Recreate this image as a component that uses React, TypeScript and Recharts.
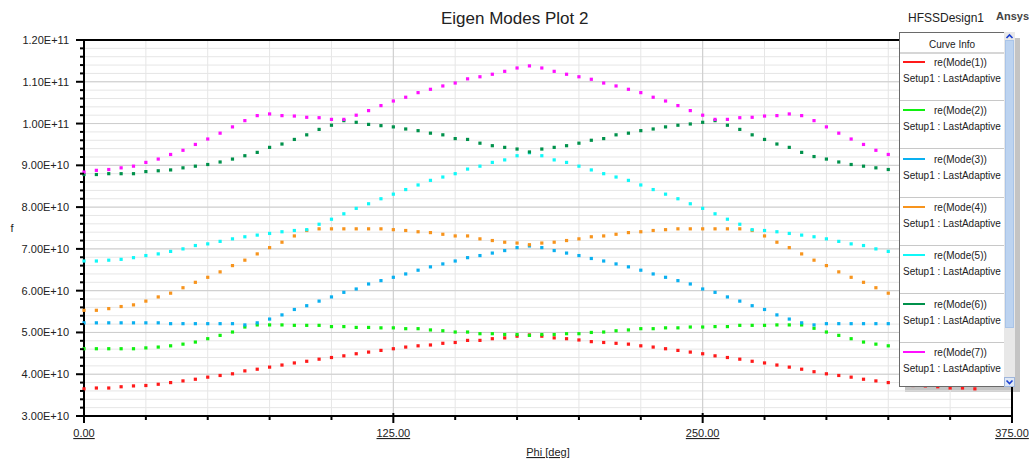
import * as React from "react"
import { LineChart, Line, XAxis, YAxis, CartesianGrid, ReferenceLine } from "recharts"

// Phi sweep in degrees
const phi = [
  0, 5, 10, 15, 20, 25, 30, 35, 40, 45,
  50, 55, 60, 65, 70, 75, 80, 85, 90, 95,
  100, 105, 110, 115, 120, 125, 130, 135, 140, 145,
  150, 155, 160, 165, 170, 175, 180, 185, 190, 195,
  200, 205, 210, 215, 220, 225, 230, 235, 240, 245,
  250, 255, 260, 265, 270, 275, 280, 285, 290, 295,
  300, 305, 310, 315, 320, 325, 330, 335, 340, 345,
  350, 355, 360,
]

// eigen frequencies in GHz
const mode1 = [
  36.5, 36.7, 36.7, 37.0, 37.2, 37.3, 37.6, 38.0, 38.4, 38.8,
  39.3, 39.7, 40.1, 40.8, 41.2, 41.7, 42.2, 42.7, 43.1, 43.6,
  44.0, 44.4, 44.9, 45.3, 45.7, 46.1, 46.5, 46.8, 47.0, 47.4,
  47.6, 48.1, 48.1, 48.5, 48.7, 49.1, 49.4, 49.1, 48.7, 48.5,
  48.2, 47.8, 47.6, 47.4, 47.2, 46.8, 46.5, 46.1, 45.7, 45.3,
  44.9, 44.4, 44.0, 43.6, 43.1, 42.7, 42.2, 41.7, 41.2, 40.6,
  40.1, 39.7, 39.3, 38.8, 38.4, 38.0, 37.6, 37.3, 37.2, 37.0,
  36.7, 36.7, 36.5,
]
const mode2 = [
  46.1, 46.1, 46.1, 46.1, 46.1, 46.3, 46.5, 46.8, 47.2, 47.7,
  48.5, 49.3, 50.1, 51.3, 51.8, 51.8, 51.8, 51.7, 51.7, 51.7,
  51.4, 51.4, 51.2, 51.2, 51.1, 51.1, 50.9, 50.9, 50.6, 50.4,
  50.1, 50.1, 49.7, 49.7, 49.5, 49.5, 49.3, 49.5, 49.5, 49.7,
  49.7, 50.0, 50.1, 50.4, 50.6, 50.9, 50.9, 51.1, 51.1, 51.3,
  51.3, 51.4, 51.4, 51.7, 51.7, 51.7, 51.8, 51.8, 51.8, 51.0,
  50.1, 49.3, 48.5, 47.7, 47.2, 46.8, 46.5, 46.3, 46.1, 46.1,
  46.1, 46.1, 46.1,
]
const mode3 = [
  52.3, 52.3, 52.3, 52.3, 52.3, 52.3, 52.3, 52.1, 52.1, 52.1,
  52.1, 52.1, 52.1, 51.8, 52.3, 53.2, 54.2, 55.5, 56.4, 57.5,
  58.5, 59.6, 60.4, 61.6, 62.4, 63.2, 64.0, 64.9, 65.7, 66.4,
  67.1, 67.9, 68.4, 69.0, 69.6, 70.3, 70.7, 70.3, 69.6, 69.0,
  68.4, 67.7, 67.1, 66.4, 65.7, 64.9, 64.0, 63.2, 62.4, 61.6,
  60.4, 59.6, 58.5, 57.5, 56.4, 55.5, 54.2, 53.2, 52.3, 51.8,
  52.1, 52.1, 52.1, 52.1, 52.1, 52.1, 52.3, 52.3, 52.3, 52.3,
  52.3, 52.3, 52.3,
]
const mode4 = [
  55.3, 55.3, 55.7, 56.2, 56.6, 57.5, 58.5, 59.4, 60.7, 62.0,
  63.2, 64.5, 66.0, 67.3, 68.8, 70.3, 71.6, 73.1, 74.4, 74.8,
  74.8, 74.8, 74.8, 74.8, 74.8, 74.6, 74.4, 74.1, 73.9, 73.5,
  73.1, 73.1, 72.4, 72.0, 71.6, 71.4, 71.0, 71.4, 71.6, 72.0,
  72.4, 72.9, 73.1, 73.5, 73.9, 74.1, 74.4, 74.6, 74.8, 74.8,
  74.8, 74.8, 74.8, 74.8, 74.4, 73.1, 71.6, 70.3, 68.8, 67.3,
  66.0, 64.5, 63.2, 62.0, 60.7, 59.4, 58.5, 57.5, 56.6, 56.2,
  55.7, 55.3, 55.3,
]
const mode5 = [
  67.1, 67.1, 67.3, 67.5, 67.9, 68.4, 68.8, 69.4, 70.0, 70.8,
  71.2, 71.8, 72.4, 72.9, 73.3, 73.7, 74.1, 74.4, 74.6, 75.9,
  77.1, 78.4, 79.7, 80.8, 82.0, 83.1, 84.2, 85.3, 86.4, 87.2,
  88.0, 89.1, 89.8, 90.7, 91.3, 92.3, 93.0, 92.3, 91.3, 90.7,
  89.8, 88.9, 88.0, 87.2, 86.4, 85.3, 84.2, 83.1, 82.0, 80.8,
  79.7, 78.4, 77.1, 75.9, 74.6, 74.4, 74.1, 73.7, 73.3, 72.9,
  72.4, 71.8, 71.2, 70.8, 70.0, 69.4, 68.8, 68.4, 67.9, 67.5,
  67.3, 67.1, 67.1,
]
const mode6 = [
  87.8, 87.8, 88.0, 88.0, 88.0, 88.5, 88.7, 88.9, 89.4, 89.8,
  90.2, 90.8, 91.5, 92.3, 93.1, 94.3, 95.1, 96.2, 97.3, 98.6,
  99.6, 100.7, 100.3, 99.8, 99.5, 99.2, 98.7, 98.3, 97.7, 97.3,
  96.4, 96.2, 95.3, 94.7, 94.3, 93.9, 93.2, 93.9, 94.3, 94.7,
  95.3, 96.0, 96.4, 97.3, 97.7, 98.3, 98.7, 99.2, 99.6, 99.9,
  100.3, 100.7, 99.6, 98.6, 97.3, 96.2, 95.1, 94.3, 93.1, 92.1,
  91.5, 90.8, 90.2, 89.8, 89.4, 89.0, 88.7, 88.5, 88.0, 88.0,
  88.0, 87.8, 87.8,
]
const mode7 = [
  88.4, 88.8, 89.0, 89.4, 89.8, 90.7, 91.5, 92.6, 93.6, 95.0,
  96.3, 97.7, 99.2, 100.7, 101.9, 102.3, 101.9, 101.8, 101.5, 101.4,
  101.0, 101.0, 102.0, 103.1, 104.3, 105.4, 106.3, 107.4, 108.2, 109.0,
  109.7, 110.7, 111.2, 111.8, 112.5, 113.3, 113.8, 113.3, 112.5, 111.8,
  111.2, 110.6, 109.7, 109.0, 108.2, 107.4, 106.3, 105.4, 104.3, 103.1,
  102.0, 101.0, 101.0, 101.4, 101.5, 101.8, 101.9, 102.3, 101.9, 100.7,
  99.2, 97.7, 96.3, 95.0, 93.6, 92.6, 91.5, 90.7, 89.8, 89.4,
  89.0, 88.8, 88.4,
]

const xTicks = [0, 25, 50, 75, 100, 125, 150, 175, 200, 225, 250, 275, 300, 325, 350, 375]
const xMajor = [0, 125, 250, 375]
const yTicks = [
  30, 32, 34, 36, 38, 40, 42, 44, 46, 48, 50, 52, 54, 56, 58, 60,
  62, 64, 66, 68, 70, 72, 74, 76, 78, 80, 82, 84, 86, 88, 90,
  92, 94, 96, 98, 100, 102, 104, 106, 108, 110, 112, 114, 116, 118, 120,
]
const yMajor = [30, 40, 50, 60, 70, 80, 90, 100, 110, 120]

const modeNames = ["re(Mode(1))", "re(Mode(2))", "re(Mode(3))", "re(Mode(4))", "re(Mode(5))", "re(Mode(6))", "re(Mode(7))"]
const setupName = "Setup1 : LastAdaptive"
const colors = ["#ff1a1a", "#10f010", "#0ab0f0", "#f7941d", "#10f8f8", "#00914b", "#ff10ff"]

const series = [mode1, mode2, mode3, mode4, mode5, mode6, mode7]
const data = phi.map((p, i) => {
  const row: Record<string, number> = { phi: p }
  series.forEach((s, k) => {
    row[`m${k + 1}`] = s[i]
  })
  return row
})

const FONT = "'Liberation Sans', Arial, sans-serif"

const XTick = ({ x, y, payload }: any) => {
  const v = payload.value
  const major = xMajor.includes(v)
  return (
    <g>
      <line x1={x} x2={x} y1={major ? y - 3 : y} y2={y + (major ? 7 : 4)} stroke="#000" strokeWidth={2} />
      {major && (
        <text x={x} y={y + 21} textAnchor="middle" fontSize={11} fontFamily={FONT} fill="#222" textDecoration="underline">
          {v.toFixed(2)}
        </text>
      )}
    </g>
  )
}

const YTick = ({ x, y, payload }: any) => {
  const v = payload.value
  const major = yMajor.includes(v)
  return (
    <g>
      <line x1={x - (major ? 8 : 4)} x2={x} y1={y} y2={y} stroke="#000" strokeWidth={2} />
      {major && (
        <text x={x - 15} y={y + 4} textAnchor="end" fontSize={11} fontFamily={FONT} fill="#222">
          {(v * 1e9).toExponential(2).toUpperCase()}
        </text>
      )}
    </g>
  )
}

const square = (color: string) => (p: any) => (
  <rect key={`d-${p.index}`} x={p.cx - 1.6} y={p.cy - 1.6} width={3.2} height={3.2} fill={color} />
)

// drop shadow sits under the chart svg, so points below the box stay visible
const CurveShadow = () => (
  <>
    <div style={{ position: "absolute", left: 905, top: 386, width: 115, height: 6, background: "#c4c4c4" }} />
    <div style={{ position: "absolute", left: 1015, top: 38, width: 5, height: 354, background: "#c4c4c4" }} />
  </>
)

const CurveInfo = () => {
  const rowH = 48.3
  return (
    <>
      <div
        style={{
          position: "absolute", left: 899, top: 32, width: 104, height: 353,
          border: "1px solid #6a6a6a", background: "#fff", fontFamily: FONT, color: "#222",
        }}
      >
        <div style={{ position: "absolute", left: 0, top: 6, width: 104, textAlign: "center", fontSize: 10 }}>Curve Info</div>
        <div style={{ position: "absolute", left: 0, top: 19, width: 104, height: 2, background: "#d6d6d6" }} />
        {modeNames.map((name, k) => (
          <React.Fragment key={name}>
            <div style={{ position: "absolute", left: 3, top: 28 + k * rowH, width: 22, height: 2, background: colors[k] }} />
            <div style={{ position: "absolute", left: 34, top: 24 + k * rowH, fontSize: 10, whiteSpace: "nowrap" }}>{name}</div>
            <div style={{ position: "absolute", left: 3, top: 40 + k * rowH, fontSize: 10, whiteSpace: "nowrap" }}>{setupName}</div>
            {k < modeNames.length - 1 && (
              <div style={{ position: "absolute", left: 0, top: 67 + k * rowH, width: 104, height: 1, background: "#c8c8c8" }} />
            )}
          </React.Fragment>
        ))}
      </div>
      {/* scrollbar */}
      <div style={{ position: "absolute", left: 1004, top: 32, width: 11, height: 355, background: "#e8e8e8" }} />
      <div style={{ position: "absolute", left: 1005, top: 40, width: 9, height: 288, background: "#bcd3f0", border: "1px solid #a9c4e8", boxSizing: "border-box" }} />
      <svg style={{ position: "absolute", left: 1004, top: 32 }} width={11} height={8}>
        <polyline points="2.5,6 5.5,3 8.5,6" fill="none" stroke="#1a3fd0" strokeWidth={1.6} />
      </svg>
      <svg style={{ position: "absolute", left: 1004, top: 377 }} width={11} height={10}>
        <rect x={0.5} y={0.5} width={10} height={9} fill="#dfe8f6" stroke="#9fb6dc" />
        <polyline points="2.5,3.5 5.5,6.5 8.5,3.5" fill="none" stroke="#1a3fd0" strokeWidth={1.6} />
      </svg>
    </>
  )
}

export default function App() {
  return (
    <div style={{ position: "absolute", left: 0, top: 0, width: 1029, height: 459, background: "#fff", fontFamily: FONT }}>
      <CurveShadow />
      <div style={{ position: "absolute", left: 0, top: 0 }}>
        <LineChart width={1029} height={459} data={data} margin={{ top: 40, right: 17, bottom: 0, left: 0 }}>
          <CartesianGrid stroke="#e6e6e6" horizontalValues={yTicks} verticalValues={xTicks} />
          <CartesianGrid stroke="#cdcdcd" horizontalValues={yMajor} verticalValues={[125, 250]} />
          <XAxis
            dataKey="phi"
            type="number"
            domain={[0, 375]}
            ticks={xTicks}
            interval={0}
            height={43}
            tickSize={0}
            tickMargin={0}
            axisLine={{ stroke: "#000", strokeWidth: 2 }}
            tick={<XTick />}
            label={{
              content: (props: any) => {
                const vb = props.viewBox
                return (
                  <text x={vb.x + vb.width / 2} y={456} textAnchor="middle" fontSize={11} fontFamily={FONT} fill="#222" textDecoration="underline">
                    Phi [deg]
                  </text>
                )
              },
            }}
          />
          <YAxis
            type="number"
            domain={[30, 120]}
            ticks={yTicks}
            interval={0}
            width={84}
            tickSize={0}
            tickMargin={0}
            axisLine={{ stroke: "#000", strokeWidth: 2 }}
            tick={<YTick />}
            label={{
              content: () => (
                <text x={12} y={232} textAnchor="middle" fontSize={11} fontFamily={FONT} fill="#222">
                  f
                </text>
              ),
            }}
          />
          <ReferenceLine y={120} stroke="#000" strokeWidth={2} />
          <ReferenceLine x={375} stroke="#000" strokeWidth={2} />
          {series.map((_, k) => (
            <Line
              key={k}
              dataKey={`m${k + 1}`}
              type="linear"
              stroke="none"
              dot={square(colors[k])}
              activeDot={false}
              isAnimationActive={false}
            />
          ))}
        </LineChart>
      </div>
      <div style={{ position: "absolute", left: 441, top: 9, fontSize: 17, color: "#222", whiteSpace: "nowrap" }}>Eigen Modes Plot 2</div>
      <div style={{ position: "absolute", left: 908, top: 11, fontSize: 12, color: "#222", whiteSpace: "nowrap" }}>HFSSDesign1</div>
      <div style={{ position: "absolute", left: 996, top: 10, fontSize: 11, fontWeight: "bold", color: "#444", whiteSpace: "nowrap" }}>Ansys</div>
      <CurveInfo />
    </div>
  )
}
